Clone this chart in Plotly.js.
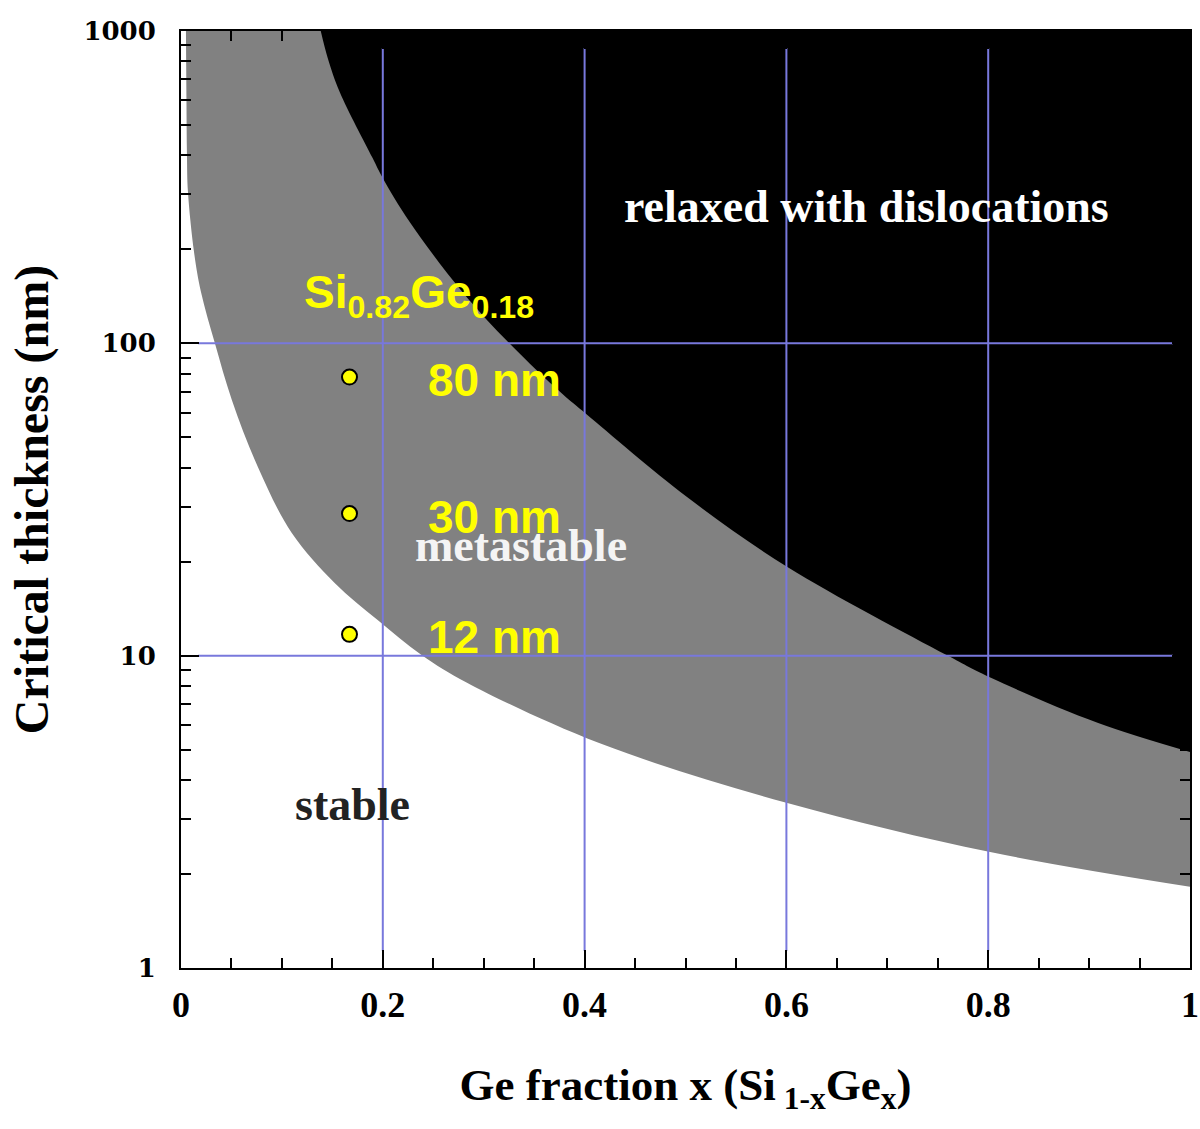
<!DOCTYPE html>
<html>
<head>
<meta charset="utf-8">
<script src="https://cdn.plot.ly/plotly-3.0.1.min.js"></script>
<style>
  html, body { margin: 0; padding: 0; background: #ffffff; }
  #chart { width: 1200px; height: 1129px; }
</style>
</head>
<body>
<div id="chart"></div>
<script>
// ---- Data ----
// Stable / metastable boundary (lower curve), Ge fraction x vs thickness (nm)
const lowerX = [0.0049, 0.0054, 0.0059, 0.0069, 0.0129, 0.0198, 0.0336, 0.0504, 0.0762, 0.1098, 0.1523, 0.1949, 0.2384, 0.2839, 0.4144, 0.600, 0.802, 1.0];
const lowerY = [1000, 601, 401, 305, 196, 146, 100, 65.9, 40.2, 24.7, 17.1, 13.0, 10.05, 8.18, 5.25, 3.38, 2.35, 1.82];
// Metastable / relaxed boundary (upper curve)
const upperX = [0.1385, 0.1454, 0.1573, 0.1899, 0.1998, 0.2265, 0.2789, 0.3254, 0.3778, 0.4016, 0.5015, 0.6014, 0.7587, 0.8032, 0.909, 1.0];
const upperY = [1000, 820, 638, 392, 339, 245, 146, 100, 68.9, 59.4, 32.2, 19.2, 10.05, 8.48, 6.09, 4.92];
// Si0.82Ge0.18 sample points
const sampleX = [0.167, 0.167, 0.167];
const sampleY = [78, 28.5, 11.7];
const sampleLabels = ['80 nm', '30 nm', '12 nm'];
// Axes
const xTickVals = [0, 0.2, 0.4, 0.6, 0.8, 1];
const xTickText = ['0', '0.2', '0.4', '0.6', '0.8', '1'];
const yTickVals = [1, 10, 100, 1000];
const yTickText = ['1', '10', '100', '1000'];
const yMinorTicks = [2, 3, 4, 5, 6, 7, 8, 9, 20, 30, 40, 50, 60, 70, 80, 90, 200, 300, 400, 500, 600, 700, 800, 900];
const xGridVals = [0.2, 0.4, 0.6, 0.8];
const yGridVals = [10, 100];
const yRangeLog = [0, 3];
const xRange = [0, 1];

const yTop = Math.pow(10, yRangeLog[1]);
const GRID = '#7878dc';
const serif = 'Liberation Serif, Times New Roman, serif';
const sans = 'Liberation Sans, Arial, sans-serif';

// gridlines stop short of the frame by about the major tick length
const plotH = 937, plotW = 1009, tickInset = 17;
const gyLo = Math.pow(10, (yRangeLog[1] - yRangeLog[0]) * tickInset / plotH);
const gyHi = Math.pow(10, (yRangeLog[1] - yRangeLog[0]) * (1 - tickInset / plotH));
const gxLo = tickInset / plotW, gxHi = 1 - tickInset / plotW;

const traces = [];
// gray metastable region: between top edge and lower curve
traces.push({x: [lowerX[0], 1], y: [yTop, yTop], mode: 'lines', line: {width: 0, color: 'rgba(0,0,0,0)'}, hoverinfo: 'skip', showlegend: false});
traces.push({x: lowerX, y: lowerY, mode: 'lines', line: {width: 0, shape: 'spline', color: '#808080'}, fill: 'tonexty', fillcolor: '#818181', hoverinfo: 'skip', showlegend: false});
// black relaxed region
traces.push({x: [upperX[0], 1], y: [yTop, yTop], mode: 'lines', line: {width: 0, color: 'rgba(0,0,0,0)'}, hoverinfo: 'skip', showlegend: false});
traces.push({x: upperX, y: upperY, mode: 'lines', line: {width: 0, shape: 'spline', color: '#000'}, fill: 'tonexty', fillcolor: '#000000', hoverinfo: 'skip', showlegend: false});

// gridlines drawn above the fills
const vgx = [], vgy = [];
xGridVals.forEach(v => { vgx.push(v, v, null); vgy.push(gyLo, gyHi, null); });
traces.push({x: vgx, y: vgy, mode: 'lines', line: {color: GRID, width: 2}, hoverinfo: 'skip', showlegend: false});
const hgx = [], hgy = [];
yGridVals.forEach(v => { hgx.push(gxLo, gxHi, null); hgy.push(v, v, null); });
traces.push({x: hgx, y: hgy, mode: 'lines', line: {color: GRID, width: 2}, hoverinfo: 'skip', showlegend: false});

// sample points
traces.push({x: sampleX, y: sampleY, mode: 'markers', marker: {size: 15, color: '#ffff00', line: {color: '#000', width: 2}}, hoverinfo: 'skip', showlegend: false});

// placeholder trace so that the minor-tick axis is drawn
traces.push({x: [null], y: [null], yaxis: 'y2', mode: 'markers', hoverinfo: 'skip', showlegend: false});

const annotations = [
  {x: 0.6795, y: 2.437, text: 'relaxed with dislocations', font: {family: serif, size: 46, color: '#ffffff', weight: 'bold'}},
  {x: 0.337, y: 1.354, text: 'metastable', font: {family: serif, size: 46, color: '#f4f4f4', weight: 'bold'}},
  {x: 0.170, y: 0.522, text: 'stable', font: {family: serif, size: 46, color: '#222222', weight: 'bold'}},
  {x: 0.1197, y: 2.152, xanchor: 'left', text: 'Si<sub>0.82</sub>Ge<sub>0.18</sub>', font: {family: sans, size: 46, color: '#ffff00', weight: 'bold'}}
];
const labelY = [1.883, 1.444, 1.060];
sampleLabels.forEach((t, i) => {
  annotations.push({x: 0.2433, y: labelY[i], xanchor: 'left', text: t, font: {family: sans, size: 46, color: '#ffff00', weight: 'bold'}});
});
annotations.forEach(a => { a.xref = 'x'; a.yref = 'y'; a.showarrow = false; if (!a.xanchor) a.xanchor = 'center'; a.yanchor = 'middle'; });

const layout = {
  width: 1200, height: 1129,
  margin: {l: 181, r: 10, t: 31, b: 161},
  paper_bgcolor: '#ffffff', plot_bgcolor: '#ffffff',
  showlegend: false, hovermode: false,
  xaxis: {
    range: xRange, tickmode: 'array', tickvals: xTickVals, ticktext: xTickText,
    ticks: 'inside', ticklen: 18, tickwidth: 2, tickcolor: '#000',
    minor: {dtick: 0.05, tick0: 0, ticks: 'inside', ticklen: 10, tickwidth: 2, tickcolor: '#000', showgrid: false},
    showline: true, linewidth: 2, linecolor: '#000', mirror: 'ticks',
    showgrid: false, zeroline: false,
    tickfont: {family: serif, size: 36, color: '#000', weight: 'bold'},
    ticklabelstandoff: 4,
    title: {text: 'Ge fraction x (Si<sub> 1-x</sub>Ge<sub>x</sub>)', font: {family: serif, size: 45, color: '#000', weight: 'bold'}, standoff: 44},
    automargin: false
  },
  yaxis: {
    type: 'log', range: yRangeLog, tickmode: 'array', tickvals: yTickVals, ticktext: yTickText,
    ticks: 'inside', ticklen: 18, tickwidth: 2, tickcolor: '#000',
    showline: true, linewidth: 2, linecolor: '#000', mirror: 'ticks',
    showgrid: false, zeroline: false,
    tickfont: {family: 'DejaVu Serif, serif', size: 26, color: '#000', weight: 'bold'},
    ticklabelstandoff: 18,
    title: {text: 'Critical thickness (nm)', font: {family: serif, size: 48, color: '#000', weight: 'bold'}, standoff: 20},
    automargin: false
  },
  yaxis2: {
    type: 'log', range: yRangeLog, overlaying: 'y', anchor: 'x', side: 'left',
    tickmode: 'array', tickvals: yMinorTicks, showticklabels: false,
    ticks: 'inside', ticklen: 10, tickwidth: 2, tickcolor: '#000',
    showline: false, mirror: 'ticks', showgrid: false, zeroline: false
  },
  annotations: annotations
};

Plotly.newPlot('chart', traces, layout, {staticPlot: true, displayModeBar: false});
</script>
</body>
</html>
